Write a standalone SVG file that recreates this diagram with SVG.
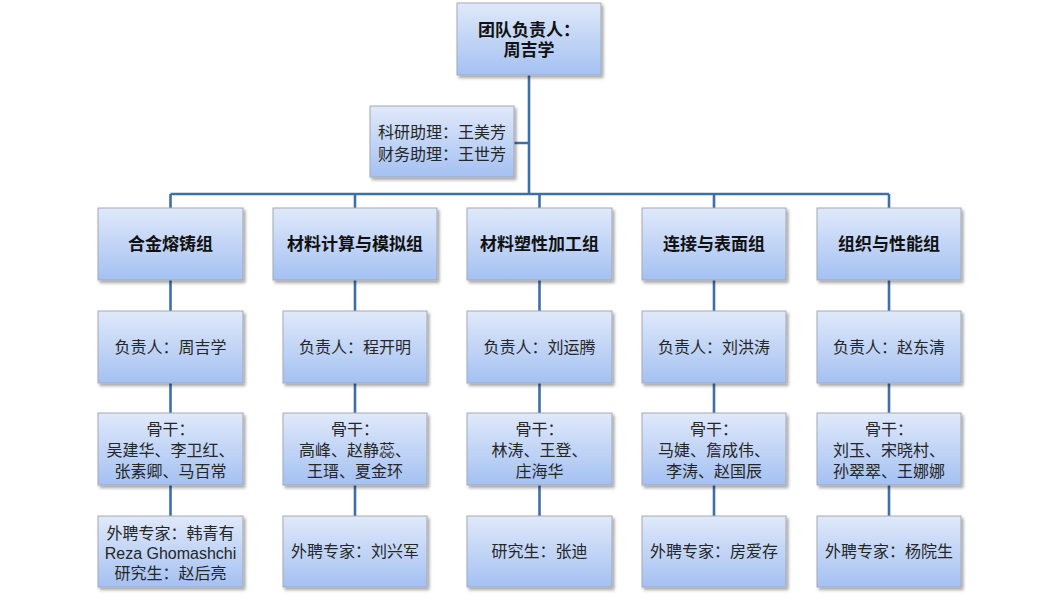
<svg xmlns="http://www.w3.org/2000/svg" width="1059" height="600" viewBox="0 0 1059 600">
<defs>
<linearGradient id="g" x1="0" y1="0" x2="0" y2="1">
<stop offset="0" stop-color="#E0E9FA"/>
<stop offset="1" stop-color="#A4C1F2"/>
</linearGradient>
<filter id="sh" x="-10%" y="-10%" width="125%" height="130%">
<feDropShadow dx="2" dy="2.5" stdDeviation="1.5" flood-color="#000" flood-opacity="0.35"/>
</filter>
<style>
.box{fill:url(#g);stroke:#A3A9B3;stroke-width:1;filter:url(#sh)}
.t{font-family:"Liberation Sans","Noto Sans CJK SC",sans-serif;font-size:16px;fill:#262626;text-anchor:middle;dominant-baseline:central}
.b{font-family:"Liberation Sans","Noto Sans CJK SC",sans-serif;font-size:17px;font-weight:bold;fill:#111;text-anchor:middle;dominant-baseline:central}
.c{fill:none;stroke:#3F6FAA;stroke-width:2.6}
</style>
</defs>
<rect width="1059" height="600" fill="#fff"/>
<g id="connectors">
<path class="c" d="M529 75V194M514 143H529M170.5 194H889M170.5 194V208M355 194V208M539.5 194V208M714 194V208M889 194V208"/>
<path class="c" d="M170.5 280V311M170.5 383V413M170.5 485V516"/>
<path class="c" d="M355 280V311M355 383V413M355 485V516"/>
<path class="c" d="M539.5 280V311M539.5 383V413M539.5 485V516"/>
<path class="c" d="M714 280V311M714 383V413M714 485V516"/>
<path class="c" d="M889 280V311M889 383V413M889 485V516"/>
</g>
<g id="leader"><rect class="box" x="457" y="3" width="144" height="72"/><text class="b" x="529" y="30">团队负责人：<tspan x="529" dy="20">周吉学</tspan></text></g>
<g id="assistants"><rect class="box" x="370" y="106" width="144" height="71"/><text class="t" x="442" y="132">科研助理：王美芳<tspan x="442" dy="22">财务助理：王世芳</tspan></text></g>

<g id="g1"><rect class="box" x="98" y="208" width="145" height="72"/><text class="b" x="170.5" y="244">合金熔铸组</text></g>
<g id="g1-lead"><rect class="box" x="98" y="311" width="145" height="72"/><text class="t" x="170.5" y="347">负责人：周吉学</text></g>
<g id="g1-core"><rect class="box" x="98" y="413" width="145" height="72"/><text class="t" x="170.5" y="429">骨干：<tspan x="170.5" dy="21">吴建华、李卫红、</tspan><tspan x="170.5" dy="21">张素卿、马百常</tspan></text></g>
<g id="g1-ext"><rect class="box" x="98" y="516" width="145" height="71"/><text class="t" x="170.5" y="533">外聘专家：韩青有<tspan x="170.5" dy="20">Reza Ghomashchi</tspan><tspan x="170.5" dy="20">研究生：赵后亮</tspan></text></g>

<g id="g2"><rect class="box" x="273" y="208" width="164" height="72"/><text class="b" x="355" y="244">材料计算与模拟组</text></g>
<g id="g2-lead"><rect class="box" x="283" y="311" width="144" height="72"/><text class="t" x="355" y="347">负责人：程开明</text></g>
<g id="g2-core"><rect class="box" x="283" y="413" width="144" height="72"/><text class="t" x="355" y="429">骨干：<tspan x="355" dy="21">高峰、赵静蕊、</tspan><tspan x="355" dy="21">王瑨、夏金环</tspan></text></g>
<g id="g2-ext"><rect class="box" x="283" y="516" width="144" height="71"/><text class="t" x="355" y="551">外聘专家：刘兴军</text></g>

<g id="g3"><rect class="box" x="467" y="208" width="145" height="72"/><text class="b" x="539.5" y="244">材料塑性加工组</text></g>
<g id="g3-lead"><rect class="box" x="467" y="311" width="145" height="72"/><text class="t" x="539.5" y="347">负责人：刘运腾</text></g>
<g id="g3-core"><rect class="box" x="467" y="413" width="145" height="72"/><text class="t" x="539.5" y="429">骨干：<tspan x="539.5" dy="21">林涛、王登、</tspan><tspan x="539.5" dy="21">庄海华</tspan></text></g>
<g id="g3-ext"><rect class="box" x="467" y="516" width="145" height="71"/><text class="t" x="539.5" y="551">研究生：张迪</text></g>

<g id="g4"><rect class="box" x="642" y="208" width="144" height="72"/><text class="b" x="714" y="244">连接与表面组</text></g>
<g id="g4-lead"><rect class="box" x="642" y="311" width="144" height="72"/><text class="t" x="714" y="347">负责人：刘洪涛</text></g>
<g id="g4-core"><rect class="box" x="642" y="413" width="144" height="72"/><text class="t" x="714" y="429">骨干：<tspan x="714" dy="21">马婕、詹成伟、</tspan><tspan x="714" dy="21">李涛、赵国辰</tspan></text></g>
<g id="g4-ext"><rect class="box" x="642" y="516" width="144" height="71"/><text class="t" x="714" y="551">外聘专家：房爱存</text></g>

<g id="g5"><rect class="box" x="817" y="208" width="144" height="72"/><text class="b" x="889" y="244">组织与性能组</text></g>
<g id="g5-lead"><rect class="box" x="817" y="311" width="144" height="72"/><text class="t" x="889" y="347">负责人：赵东清</text></g>
<g id="g5-core"><rect class="box" x="817" y="413" width="144" height="72"/><text class="t" x="889" y="429">骨干：<tspan x="889" dy="21">刘玉、宋晓村、</tspan><tspan x="889" dy="21">孙翠翠、王娜娜</tspan></text></g>
<g id="g5-ext"><rect class="box" x="817" y="516" width="144" height="71"/><text class="t" x="889" y="551">外聘专家：杨院生</text></g>
</svg>
